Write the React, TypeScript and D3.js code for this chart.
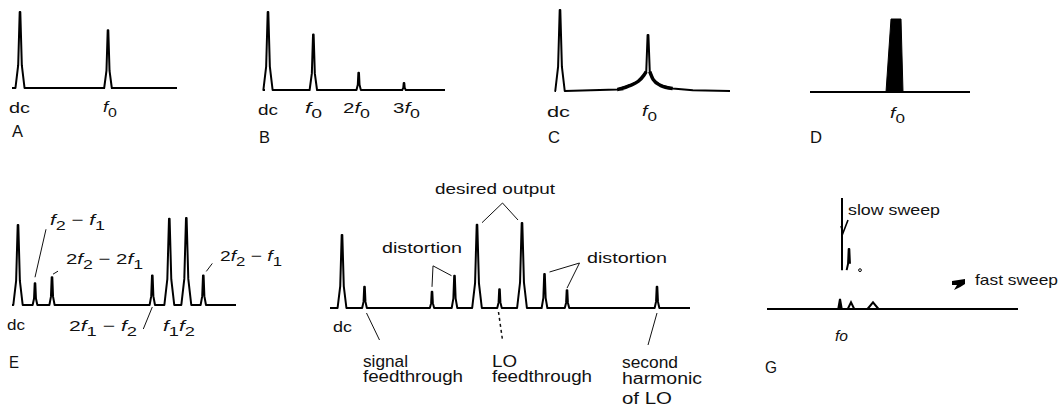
import * as d3 from 'd3';

const FONT = "'Liberation Sans', Arial, Helvetica, sans-serif";

// A: dc and a single tone
const aFreqs = [0, 1];
const aAmps = [1, 0.76];
// B: tone with harmonics
const bFreqs = [0, 1, 2, 3];
const bAmps = [1, 0.71, 0.22, 0.09];
// C: tone with noise skirt
const cFreqs = [0, 1];
const cAmps = [1, 0.69];
const cSkirtFreqs = [0.65, 0.8, 0.89, 0.95, 0.98, 1.02, 1.06, 1.14, 1.28, 1.51];
const cSkirtAmps = [0.02, 0.07, 0.12, 0.19, 0.24, 0.24, 0.14, 0.07, 0.03, 0.01];
// D: swept band around f0
const dBandFreqs = [-0.09, -0.04, 0.06, 0.08];
const dBandAmps = [0, 1, 1, 0];
// E: two-tone intermodulation (units of f2 - f1)
const eFreqs = [0, 1, 2, 7.9, 8.9, 9.9, 10.9];
const eAmps = [0.92, 0.25, 0.32, 0.34, 0.99, 1, 0.34];
// F: mixer output (units of signal freq, LO = 7)
const fFreqs = [0, 1, 4, 5, 6, 7, 8, 9, 10, 14];
const fAmps = [0.86, 0.25, 0.19, 0.38, 0.98, 0.22, 1, 0.4, 0.21, 0.25];
// G: slow vs fast sweep
const gSlowFreqs = [0, 0.14];
const gSlowAmps = [1, 0.54];
const gSlowFloor = 0.35;
const gFastFreqs = [-0.04, 0.18, 0.62];
const gFastAmps = [0.09, 0.06, 0.06];
const gFastWidths = [0.07, 0.13, 0.22];

type Pt = [number, number];
type Scale = d3.ScaleLinear<number, number>;

const line = d3.line<Pt>();

function peakPoints(x: number, base: number, top: number): Pt[] {
  const h = base - top;
  const hw = 1.5 + h * 0.04;
  return [
    [x - hw, base],
    [x - hw * 0.4, base - h * 0.3],
    [x - 0.3, top],
    [x + 0.3, top],
    [x + hw * 0.4, base - h * 0.3],
    [x + hw, base]
  ];
}

function trace(xs: Scale, ys: Scale, freqs: number[], amps: number[], x0: number, x1: number) {
  const base = ys(0);
  const pts: Pt[] = [[x0, base]];
  freqs.forEach((f, i) => pts.push(...peakPoints(xs(f), base, ys(amps[i]))));
  pts.push([x1, base]);
  return line(pts) ?? '';
}

function mathParts(expr: string) {
  const out: { t: string; it?: boolean; sub?: boolean }[] = [];
  for (let i = 0; i < expr.length; i++) {
    const c = expr[i];
    if (c === '_') out.push({ t: expr[++i], sub: true });
    else if (c === 'f') out.push({ t: 'f', it: true });
    else out.push({ t: c });
  }
  return out;
}

function Label({ x, y, w, text, size = 15, italic = false }: { x: number; y: number; w: number; text: string; size?: number; italic?: boolean }) {
  return (
    <text x={x} y={y} fontSize={size} fontStyle={italic ? 'italic' : 'normal'} textLength={w} lengthAdjust="spacingAndGlyphs" style={{ whiteSpace: 'pre' }}>
      {text}
    </text>
  );
}

function MathLabel({ x, y, w, expr, size = 15 }: { x: number; y: number; w: number; expr: string; size?: number }) {
  let shifted = false;
  const parts = mathParts(expr).map((p, i) => {
    let dy = 0;
    if (p.sub && !shifted) { dy = 5; shifted = true; }
    else if (!p.sub && shifted) { dy = -5; shifted = false; }
    return (
      <tspan key={i} dy={dy} fontStyle={p.it ? 'italic' : 'normal'} fontSize={p.sub ? size - 2 : size}>
        {p.t}
      </tspan>
    );
  });
  return (
    <text x={x} y={y} fontSize={size} textLength={w} lengthAdjust="spacingAndGlyphs" style={{ whiteSpace: 'pre' }}>
      {parts}
    </text>
  );
}

export default function App() {
  const ax = d3.scaleLinear().domain([0, 1]).range([20, 108]);
  const ay = d3.scaleLinear().domain([0, 1]).range([88, 12]);
  const bx = d3.scaleLinear().domain([0, 3]).range([268, 404]);
  const by = d3.scaleLinear().domain([0, 1]).range([90, 12]);
  const cx = d3.scaleLinear().domain([0, 1]).range([560, 648]);
  const cy = d3.scaleLinear().domain([0, 1]).range([91, 10]);
  const dx = d3.scaleLinear().domain([0, 1]).range([895, 995]);
  const dy = d3.scaleLinear().domain([0, 1]).range([92, 19]);
  const ex = d3.scaleLinear().domain([0, 1]).range([18, 35]);
  const ey = d3.scaleLinear().domain([0, 1]).range([305, 218]);
  const fx = d3.scaleLinear().domain([0, 14]).range([342, 657]);
  const fy = d3.scaleLinear().domain([0, 1]).range([308, 223]);
  const gx = d3.scaleLinear().domain([0, 1]).range([842, 892]);
  const gy = d3.scaleLinear().domain([0, 1]).range([309, 198]);

  // C: dc peak, then skirt with the carrier spike in the middle
  const cBase = cy(0);
  const cPts: Pt[] = [[556, cBase], ...peakPoints(cx(cFreqs[0]), cBase, cy(cAmps[0]))];
  const skirtLeft: Pt[] = [];
  const skirtRight: Pt[] = [];
  cSkirtFreqs.forEach((f, i) => {
    const p: Pt = [cx(f), cy(cSkirtAmps[i])];
    if (f < cFreqs[1]) skirtLeft.push(p);
    else skirtRight.push(p);
  });
  const cTip = cx(cFreqs[1]);
  cPts.push(...skirtLeft, [cTip - 0.4, cy(cAmps[1])], [cTip + 0.4, cy(cAmps[1])], ...skirtRight, [730, cBase]);
  const curve = d3.line<Pt>().curve(d3.curveMonotoneX);

  const dBand: Pt[] = dBandFreqs.map((f, i) => [dx(f), dy(dBandAmps[i])]);

  const eTip = (i: number): Pt => [ex(eFreqs[i]), ey(eAmps[i])];
  const fTip = (i: number): Pt => [fx(fFreqs[i]), fy(fAmps[i])];
  const fBase = fy(0);

  const desired1 = fTip(4);
  const desired2 = fTip(6);
  const apexX = (desired1[0] + desired2[0]) / 2 + 3;
  const apexY = Math.min(desired1[1], desired2[1]) - 20;

  const gFloor = gy(gSlowFloor);
  const gBase = gy(0);

  const lead = { stroke: '#111', strokeWidth: 1, fill: 'none' } as const;
  const traceStyle = { stroke: '#000', strokeWidth: 2, fill: 'none', strokeLinejoin: 'round' as const };

  return (
    <svg width={1060} height={406} style={{ position: 'absolute', left: 0, top: 0, background: '#fff' }} fontFamily={FONT} fill="#111">
      {/* A */}
      <path d={trace(ax, ay, aFreqs, aAmps, 12, 177)} {...traceStyle} />
      <Label x={9} y={113} w={21} text="dc" />
      <MathLabel x={103} y={112} w={14} expr="f_0" />
      <Label x={12} y={137} w={11} text="A" size={16} />

      {/* B */}
      <path d={trace(bx, by, bFreqs, bAmps, 265, 445)} {...traceStyle} />
      <Label x={258} y={115} w={20} text="dc" />
      <MathLabel x={305} y={113} w={17} expr="f_0" />
      <MathLabel x={343} y={113} w={27} expr="2f_0" />
      <MathLabel x={393} y={113} w={27} expr="3f_0" />
      <Label x={259} y={143} w={11} text="B" size={16} />

      {/* C */}
      <path d={line(cPts) ?? ''} {...traceStyle} />
      <path d={curve([[cx(0.72), cy(0.03)], ...skirtLeft]) ?? ''} stroke="#000" strokeWidth={3.5} fill="none" />
      <path d={curve([...skirtRight.slice(0, 4)]) ?? ''} stroke="#000" strokeWidth={3.5} fill="none" />
      <Label x={547} y={117} w={23} text="dc" />
      <MathLabel x={642} y={116} w={15} expr="f_0" />
      <Label x={548} y={143} w={12} text="C" size={16} />

      {/* D */}
      <line x1={810} x2={970} y1={dy(0)} y2={dy(0)} stroke="#000" strokeWidth={2.2} />
      <path d={(line(dBand) ?? '') + 'Z'} fill="#000" stroke="#000" strokeWidth={1} />
      <MathLabel x={890} y={118} w={15} expr="f_0" />
      <Label x={810} y={143} w={12} text="D" size={16} />

      {/* E */}
      <path d={trace(ex, ey, eFreqs, eAmps, 12, 236)} {...traceStyle} />
      <Label x={7} y={330} w={18} text="dc" />
      <Label x={9} y={368} w={10} text="E" size={16} />
      <line x1={eTip(1)[0]} y1={eTip(1)[1] - 6} x2={eTip(1)[0] + 11} y2={eTip(1)[1] - 54} {...lead} />
      <MathLabel x={50} y={225} w={55} expr="f_2 − f_1" />
      <line x1={eTip(2)[0] + 1} y1={eTip(2)[1] - 3} x2={eTip(2)[0] + 6} y2={eTip(2)[1] - 6} {...lead} />
      <MathLabel x={66} y={264} w={77} expr="2f_2 − 2f_1" />
      <line x1={eTip(3)[0]} y1={ey(0) + 2} x2={eTip(3)[0] - 9} y2={ey(0) + 24} {...lead} />
      <MathLabel x={69} y={331} w={68} expr="2f_1 − f_2" />
      <MathLabel x={163} y={331} w={32} expr="f_1f_2" />
      <line x1={eTip(6)[0] + 3} y1={eTip(6)[1] - 4} x2={eTip(6)[0] + 9} y2={eTip(6)[1] - 12} {...lead} />
      <MathLabel x={220} y={261} w={62} expr="2f_2 − f_1" />

      {/* F */}
      <path d={trace(fx, fy, fFreqs, fAmps, 330, 690)} {...traceStyle} />
      <Label x={333} y={332} w={19} text="dc" />
      <Label x={435} y={194} w={120} text="desired output" />
      <polyline points={`${desired1[0] + 5},${desired1[1] - 2} ${apexX},${apexY} ${desired2[0] - 4},${desired2[1] - 3}`} {...lead} />
      <Label x={382} y={253} w={80} text="distortion" />
      <polyline points={`${fTip(2)[0]},${fTip(2)[1] - 5} ${fTip(2)[0] + 1},${fTip(2)[1] - 26} ${fTip(3)[0] - 3},${fTip(3)[1]}`} {...lead} />
      <Label x={587} y={263} w={80} text="distortion" />
      <polyline points={`${fTip(7)[0] + 5},${fTip(7)[1] - 2} ${fTip(7)[0] + 35},${fTip(7)[1] - 11} ${fTip(8)[0]},${fTip(8)[1] - 2}`} {...lead} />
      <line x1={fTip(1)[0] + 2} y1={fBase + 5} x2={fTip(1)[0] + 15} y2={fBase + 32} {...lead} />
      <Label x={363} y={367} w={45} text="signal" size={16} />
      <Label x={363} y={382} w={100} text="feedthrough" size={16} />
      <line x1={fTip(5)[0] - 1} y1={fBase + 4} x2={fTip(5)[0] + 3} y2={fBase + 32} {...lead} strokeWidth={1.5} strokeDasharray="3 3" />
      <Label x={492} y={367} w={25} text="LO" size={16} />
      <Label x={492} y={382} w={100} text="feedthrough" size={16} />
      <line x1={fTip(9)[0]} y1={fBase + 5} x2={fTip(9)[0] - 9} y2={fBase + 37} {...lead} />
      <Label x={622} y={368} w={56} text="second" size={16} />
      <Label x={622} y={384} w={80} text="harmonic" size={16} />
      <Label x={622} y={404} w={50} text="of LO" size={16} />

      {/* G */}
      <line x1={767} x2={1018} y1={gBase} y2={gBase} stroke="#000" strokeWidth={1.8} />
      <line x1={gx(gSlowFreqs[0])} x2={gx(gSlowFreqs[0])} y1={gFloor} y2={gy(gSlowAmps[0])} stroke="#000" strokeWidth={2} />
      <path d={line(peakPoints(gx(gSlowFreqs[1]), gFloor, gy(gSlowAmps[1])).slice(0, 5)) ?? ''} {...traceStyle} />
      <polyline points={`${gx(0) + 6},220 ${gx(0) + 1},233 ${gx(0) - 1},226`} stroke="#000" strokeWidth={1.6} fill="none" />
      <circle cx={gx(0.36)} cy={gFloor} r={1.4} fill="none" stroke="#000" strokeWidth={1} />
      {gFastFreqs.map((f, i) => {
        const hw = (gx(gFastWidths[i]) - gx(0)) / 2;
        const pts: Pt[] = [[gx(f) - hw, gBase], [gx(f), gy(gFastAmps[i])], [gx(f) + hw, gBase]];
        return <path key={i} d={(line(pts) ?? '') + (i === 0 ? 'Z' : '')} fill={i === 0 ? '#000' : 'none'} stroke="#000" strokeWidth={2} />;
      })}
      <Label x={848} y={215} w={92} text="slow sweep" />
      <path d="M952,281 L965,279 L965,284 Q961,287 954,290 L957,285 L952,285 Z" fill="#000" />
      <Label x={975} y={285} w={83} text="fast sweep" />
      <Label x={835} y={341} w={13} text="fo" italic />
      <Label x={765} y={373} w={12} text="G" size={16} />
    </svg>
  );
}
